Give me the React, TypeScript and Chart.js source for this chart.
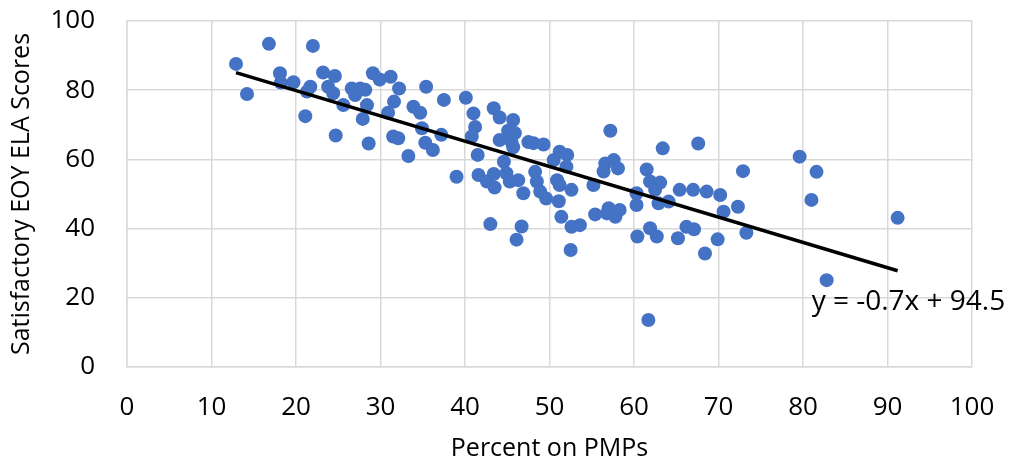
import React, { useEffect, useRef } from "react";
import { Chart, registerables } from "chart.js";

Chart.register(...registerables);

// Percent of students on PMPs per school (x) and satisfactory EOY ELA score (y)
const pmpPercent: number[] = [
  12.9, 14.2, 16.8, 18.1, 18.2, 19.7, 21.1, 21.3, 21.7, 22.0,
  23.2, 23.8, 24.4, 24.6, 24.7, 25.6, 26.6, 27.6, 28.2, 27.0,
  28.4, 27.9, 28.6, 29.1, 29.9, 31.2, 32.2, 31.6, 30.9, 31.5,
  32.1, 33.3, 33.9, 35.4, 34.7, 37.5, 40.1, 34.9, 35.3, 36.2,
  37.2, 39.0, 41.0, 41.2, 40.8, 41.5, 43.4, 44.1, 45.7, 45.1,
  45.9, 44.1, 45.5, 45.7, 47.5, 48.1, 49.3, 44.6, 41.6, 43.4,
  42.6, 43.5, 44.9, 45.3, 46.3, 46.9, 48.3, 48.5, 48.9, 49.6,
  51.2, 50.5, 52.1, 52.0, 50.9, 51.2, 52.6, 51.1, 51.4, 52.6,
  53.6, 52.5, 43.0, 46.7, 46.1, 55.2, 55.4, 57.2, 56.6, 57.6,
  58.1, 56.4, 56.8, 57.8, 58.3, 57.0, 60.3, 60.3, 60.4, 61.5,
  61.9, 63.1, 62.5, 62.9, 64.1, 61.9, 62.7, 63.4, 61.7, 65.4,
  67.0, 68.6, 70.2, 70.6, 72.3, 72.9, 67.6, 66.2, 67.1, 65.2,
  68.4, 69.9, 73.3, 79.6, 81.6, 81.0, 91.2, 82.8,
];

const elaScores: number[] = [
  87.6, 78.9, 93.4, 84.9, 82.2, 82.3, 72.5, 79.6, 81.0, 92.8,
  85.1, 81.0, 79.1, 84.1, 66.9, 75.7, 80.5, 80.5, 80.1, 78.6,
  75.7, 71.7, 64.6, 84.9, 83.1, 83.9, 80.5, 76.7, 73.5, 66.6,
  66.1, 61.0, 75.2, 81.0, 73.5, 77.2, 77.8, 69.0, 64.8, 62.7,
  67.1, 55.0, 73.3, 69.4, 66.6, 61.3, 74.8, 72.1, 71.4, 68.3,
  67.6, 65.6, 65.1, 63.5, 65.0, 64.7, 64.3, 59.3, 55.5, 55.8,
  53.6, 51.9, 56.0, 53.6, 54.0, 50.2, 56.4, 53.6, 50.7, 48.7,
  62.2, 59.8, 61.3, 57.9, 54.0, 52.6, 51.2, 47.9, 43.4, 40.5,
  41.0, 33.8, 41.3, 40.6, 36.8, 52.6, 44.1, 68.3, 58.8, 59.8,
  57.4, 56.5, 44.4, 43.4, 45.4, 45.9, 50.2, 46.8, 37.7, 57.1,
  53.6, 53.3, 51.2, 47.3, 47.8, 40.1, 37.7, 63.2, 13.6, 51.2,
  51.2, 50.7, 49.7, 44.9, 46.3, 56.6, 64.6, 40.5, 39.8, 37.2,
  32.8, 36.9, 38.8, 60.8, 56.4, 48.3, 43.1, 25.1,
];

const xTickValues: number[] = [0, 10, 20, 30, 40, 50, 60, 70, 80, 90, 100];
const yTickValues: number[] = [0, 20, 40, 60, 80, 100];

const xTitle = "Percent on PMPs";
const yTitle = "Satisfactory EOY ELA Scores";

// Least-squares linear trend of the scatter
function linearFit(xs: number[], ys: number[]) {
  const n = xs.length;
  const mx = xs.reduce((a, b) => a + b, 0) / n;
  const my = ys.reduce((a, b) => a + b, 0) / n;
  let sxy = 0;
  let sxx = 0;
  for (let i = 0; i < n; i++) {
    sxy += (xs[i] - mx) * (ys[i] - my);
    sxx += (xs[i] - mx) * (xs[i] - mx);
  }
  const slope = sxy / sxx;
  return { slope, intercept: my - slope * mx };
}

const FONT = "'Open Sans', 'Liberation Sans', sans-serif";
const GRID = "#d9d9d9";

export default function App() {
  const canvasRef = useRef<HTMLCanvasElement | null>(null);

  useEffect(() => {
    const canvas = canvasRef.current;
    if (!canvas) return;

    const { slope, intercept } = linearFit(pmpPercent, elaScores);
    const xMin = Math.min(...pmpPercent);
    const xMax = Math.max(...pmpPercent);
    const trend = [
      { x: xMin, y: slope * xMin + intercept },
      { x: xMax, y: slope * xMax + intercept },
    ];
    const sign = intercept >= 0 ? "+" : "-";
    const equation = `y = ${slope.toFixed(1)}x ${sign} ${Math.abs(intercept).toFixed(1)}`;

    const points = pmpPercent.map((x, i) => ({ x, y: elaScores[i] }));

    // Trendline equation, placed just below the right end of the line
    const equationLabel = {
      id: "equationLabel",
      afterDatasetsDraw(chart: any) {
        const { ctx, scales } = chart;
        const ex = scales.x.getPixelForValue(trend[1].x);
        const ey = scales.y.getPixelForValue(trend[1].y);
        ctx.save();
        ctx.font = `28px ${FONT}`;
        ctx.fillStyle = "#000";
        ctx.textAlign = "left";
        ctx.textBaseline = "middle";
        ctx.fillText(equation, ex - 86, ey + 31);
        ctx.restore();
      },
    };

    const chart = new Chart(canvas, {
      type: "scatter",
      data: {
        datasets: [
          {
            label: "Trend",
            data: trend,
            showLine: true,
            borderColor: "#000",
            borderWidth: 3.5,
            pointRadius: 0,
            order: 0,
          },
          {
            label: "Schools",
            data: points,
            backgroundColor: "#4472C4",
            borderColor: "#4472C4",
            borderWidth: 0,
            pointRadius: 7,
            order: 1,
          },
        ],
      },
      options: {
        responsive: false,
        animation: false,
        layout: { padding: { top: 21, right: 39, bottom: 0, left: 0 } },
        plugins: {
          legend: { display: false },
          tooltip: { enabled: false },
        },
        scales: {
          x: {
            type: "linear",
            min: 0,
            max: 100,
            afterBuildTicks: (s: any) => {
              s.ticks = xTickValues.map((v) => ({ value: v }));
            },
            afterFit: (s: any) => {
              s.height = 99;
            },
            grid: { color: GRID, lineWidth: 1.5, drawTicks: true, tickLength: 23, tickColor: "rgba(0,0,0,0)" },
            border: { color: GRID, width: 1.5 },
            ticks: {
              padding: 2,
              color: "#000",
              font: { family: FONT, size: 26 },
            },
            title: {
              display: true,
              text: xTitle,
              color: "#000",
              font: { family: FONT, size: 25 },
              padding: { top: 0, bottom: 2 },
            },
          },
          y: {
            type: "linear",
            min: 0,
            max: 100,
            afterBuildTicks: (s: any) => {
              s.ticks = yTickValues.map((v) => ({ value: v }));
            },
            afterFit: (s: any) => {
              s.width = 127;
            },
            grid: { color: GRID, lineWidth: 1.5, drawTicks: true, tickLength: 30, tickColor: "rgba(0,0,0,0)" },
            border: { color: GRID, width: 1.5 },
            ticks: {
              padding: 2,
              color: "#000",
              font: { family: FONT, size: 26 },
            },
            title: {
              display: true,
              text: yTitle,
              color: "#000",
              font: { family: FONT, size: 25 },
              padding: { top: 7, bottom: 0 },
            },
          },
        },
      },
      plugins: [equationLabel],
    });

    return () => chart.destroy();
  }, []);

  return (
    <div style={{ position: "absolute", left: 0, top: 0, width: 1011, height: 466, background: "#fff" }}>
      <canvas ref={canvasRef} width={1011} height={466} />
    </div>
  );
}
